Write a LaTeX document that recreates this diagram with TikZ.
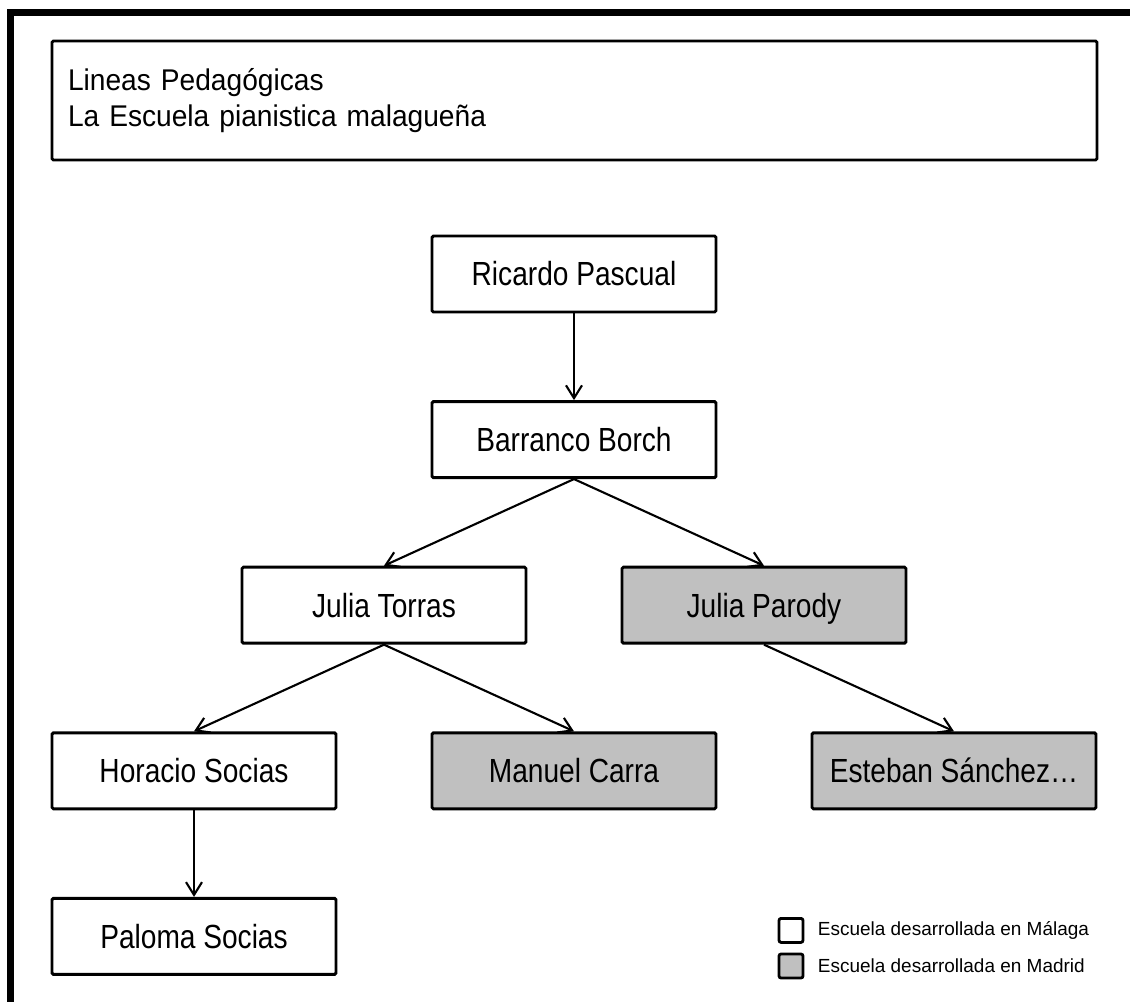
\documentclass[tikz,border=0pt]{standalone}
\usepackage{fontspec}
\setmainfont{Liberation Sans}
\newfontfamily\letraCaixa[FakeStretch=0.84]{Liberation Sans}
\newfontfamily\letraTitulo[FakeStretch=0.94]{Liberation Sans}
\usepackage{tikz}
\usetikzlibrary{arrows.meta, positioning}
\definecolor{corMadrid}{RGB}{192, 192, 192}

\begin{document}
\begin{tikzpicture}[
    node distance=2.166cm,
    persona/.style={
        draw, line width=2.1pt, rounded corners=1pt, fill=white,
        minimum width=7.1cm, minimum height=1.9cm, inner sep=0pt,
        text height=17pt, text depth=0pt,
        font=\letraCaixa\fontsize{23.8}{28}\selectfont
    },
    madrid/.style={fill=corMadrid},
    titulo/.style={
        draw, line width=2.1pt, rounded corners=1pt,
        minimum width=26.125cm, minimum height=2.975cm,
        text width=25.325cm, inner xsep=0.4cm, align=left,
        font=\letraTitulo\fontsize{21.3}{25.5}\selectfont
    },
    flecha/.style={line width=1.5pt, -{Straight Barb[length=3.2mm, width=4mm]}},
    legcaixa/.style={draw, line width=2pt, rounded corners=1.5pt, minimum size=0.6cm, inner sep=0pt},
    legtxt/.style={font=\fontsize{13.5}{16}\selectfont, inner sep=0pt, anchor=west}
]
\useasboundingbox (0,0) rectangle (28.25,-25.05);

% marco
\draw[line width=5pt] (0.2625,-25.6) -- (0.2625,-0.3125) -- (28.8,-0.3125);

\node[titulo] (titulo) at (14.3625,-2.5125)
    {Lineas Pedagógicas\\La Escuela pianistica malagueña};

\node[persona] (ricardo) at (14.35,-6.85) {Ricardo Pascual};
\node[persona, below=of ricardo] (barranco) {Barranco Borch};
\node[persona, below=of barranco, xshift=-4.75cm] (torras) {Julia Torras};
\node[persona, madrid, below=of barranco, xshift=4.75cm] (parody) {Julia Parody};
\node[persona, below=of torras, xshift=-4.75cm] (horacio) {Horacio Socias};
\node[persona, madrid, below=of torras, xshift=4.75cm] (carra) {Manuel Carra};
\node[persona, madrid, below=of parody, xshift=4.75cm] (esteban) {Esteban Sánchez…};
\node[persona, below=of horacio] (paloma) {Paloma Socias};

\draw[flecha] (ricardo.south) -- (barranco.north);
\draw[flecha] (barranco.south) -- (torras.north);
\draw[flecha] (barranco.south) -- (parody.north);
\draw[flecha] (torras.south) -- (horacio.north);
\draw[flecha] (torras.south) -- (carra.north);
\draw[flecha] (parody.south) -- (esteban.north);
\draw[flecha] (horacio.south) -- (paloma.north);

% leyenda
\node[legcaixa, fill=white] (legMalaga) at (19.775,-23.26) {};
\node[legcaixa, fill=corMadrid] (legMadrid) at (19.775,-24.15) {};
\node[legtxt, right=0.33cm of legMalaga] {Escuela desarrollada en Málaga};
\node[legtxt, right=0.33cm of legMadrid] {Escuela desarrollada en Madrid};

\end{tikzpicture}
\end{document}
